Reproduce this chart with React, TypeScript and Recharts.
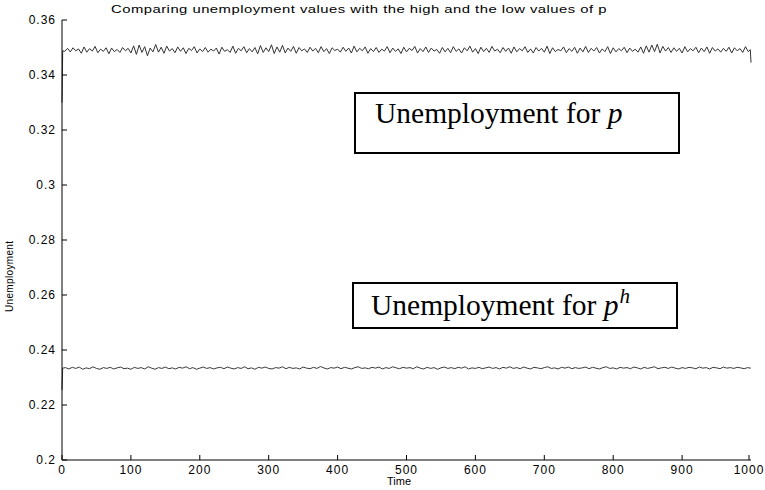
import { LineChart, Line, XAxis, YAxis } from 'recharts'

// sample times for the p series: start transient, then every 4 steps, then the last two steps
const TIMES_P = [0, 1, ...Array.from({ length: 249 }, (_, i) => 4 + i * 4), 999, 1000]
// sample times for the p^h series: start transient, then every 5 steps
const TIMES_PH = [0, 1, ...Array.from({ length: 199 }, (_, i) => 5 + i * 5), 999, 1000]

// unemployment under the low value of p
const UNEMP_P = [
  0.33, 0.3488,
  0.3486, 0.3497, 0.3484, 0.3499, 0.3488, 0.3495, 0.3479, 0.3502, 0.3483, 0.3496,
  0.3487, 0.3504, 0.3481, 0.3494, 0.3486, 0.3499, 0.3477, 0.3498, 0.3485, 0.3493,
  0.3482, 0.35, 0.3488, 0.3497, 0.348, 0.3506, 0.3475, 0.3509, 0.3482, 0.3503,
  0.347, 0.3498, 0.3484, 0.3511, 0.3483, 0.3501, 0.3479, 0.3505, 0.3487, 0.3496,
  0.3481, 0.3502, 0.3486, 0.3499, 0.3478, 0.3497, 0.3489, 0.3503, 0.348, 0.3495,
  0.3485, 0.35, 0.3483, 0.3494, 0.3487, 0.3498, 0.3476, 0.3501, 0.3486, 0.3492,
  0.3482, 0.3505, 0.3479, 0.3497, 0.3488, 0.3503, 0.3481, 0.3496, 0.3484, 0.35,
  0.3477, 0.3507, 0.3482, 0.3499, 0.3485, 0.351, 0.3478, 0.3502, 0.3483, 0.3508,
  0.348, 0.3498, 0.3486, 0.3504, 0.3479, 0.35, 0.3488, 0.3495, 0.3482, 0.3501,
  0.3487, 0.3497, 0.3481, 0.3503, 0.3485, 0.3496, 0.3478, 0.3499, 0.3489, 0.3494,
  0.3483, 0.3501, 0.3486, 0.3498, 0.348, 0.3505, 0.3484, 0.3497, 0.3488, 0.3502,
  0.3479, 0.3496, 0.3485, 0.35, 0.3482, 0.3494, 0.3487, 0.3503, 0.3481, 0.3498,
  0.3486, 0.3495, 0.3478, 0.3501, 0.3484, 0.3497, 0.3489, 0.3504, 0.348, 0.3496,
  0.3485, 0.3502, 0.3482, 0.3498, 0.3487, 0.3493, 0.3479, 0.35, 0.3484, 0.3497,
  0.3481, 0.3503, 0.3486, 0.3495, 0.348, 0.3499, 0.3488, 0.3505, 0.3483, 0.3496,
  0.3478, 0.3501, 0.3485, 0.3497, 0.3482, 0.3504, 0.3487, 0.3494, 0.3481, 0.35,
  0.3486, 0.3498, 0.3479, 0.3502, 0.3484, 0.3496, 0.3488, 0.3503, 0.3482, 0.3495,
  0.348, 0.35, 0.3487, 0.3497, 0.3483, 0.3505, 0.3478, 0.3499, 0.3485, 0.3493,
  0.3488, 0.3502, 0.3481, 0.3496, 0.3486, 0.3501, 0.3479, 0.3498, 0.3484, 0.3504,
  0.3482, 0.3497, 0.3487, 0.35, 0.348, 0.3495, 0.3485, 0.3503, 0.3478, 0.3499,
  0.3484, 0.3496, 0.3488, 0.3501, 0.3481, 0.3498, 0.3486, 0.3494, 0.3483, 0.3502,
  0.3479, 0.3506, 0.3483, 0.3509, 0.3485, 0.3512, 0.348, 0.3504, 0.3487, 0.35,
  0.3482, 0.3499, 0.3486, 0.3497, 0.348, 0.3503, 0.3484, 0.3496, 0.3488, 0.3501,
  0.3481, 0.3498, 0.3485, 0.3502, 0.3479, 0.35, 0.3487, 0.3495, 0.3483, 0.3497,
  0.3486, 0.3501, 0.348, 0.3499, 0.3488, 0.3496, 0.3482, 0.3503, 0.3485,
  0.3492, 0.3445,
]

// unemployment under the high value p^h
const UNEMP_PH = [
  0.2255, 0.2334,
  0.2336, 0.2331, 0.2337, 0.2333, 0.2338, 0.233, 0.2335, 0.2332, 0.2339, 0.2333,
  0.233, 0.2336, 0.2333, 0.2337, 0.2331, 0.2335, 0.2338, 0.2332, 0.2334, 0.233,
  0.2337, 0.2333, 0.2336, 0.2331, 0.2339, 0.2334, 0.233, 0.2336, 0.2333, 0.2338,
  0.2332, 0.2335, 0.2331, 0.2337, 0.2334, 0.2339, 0.2332, 0.2336, 0.233, 0.2334,
  0.2338, 0.2333, 0.2336, 0.2331, 0.2335, 0.2337, 0.2332, 0.2338, 0.2334, 0.2331,
  0.2336, 0.2333, 0.2339, 0.2332, 0.2335, 0.233, 0.2337, 0.2334, 0.2338, 0.2333,
  0.2331, 0.2336, 0.2334, 0.2339, 0.2332, 0.2337, 0.2333, 0.2335, 0.2331, 0.2338,
  0.2334, 0.2332, 0.2337, 0.2333, 0.234, 0.2335, 0.2331, 0.2336, 0.2334, 0.2338,
  0.2332, 0.2337, 0.2334, 0.2331, 0.2336, 0.2339, 0.2333, 0.2335, 0.2332, 0.2337,
  0.2334, 0.2338, 0.2331, 0.2336, 0.2333, 0.2339, 0.2335, 0.2332, 0.2337, 0.2334,
  0.2336, 0.2332, 0.2339, 0.2334, 0.2331, 0.2337, 0.2333, 0.2336, 0.233, 0.2335,
  0.2338, 0.2333, 0.2336, 0.2332, 0.2337, 0.2334, 0.2339, 0.2331, 0.2335, 0.2333,
  0.2337, 0.2332, 0.2335, 0.2338, 0.2333, 0.2336, 0.2331, 0.2337, 0.2334, 0.2339,
  0.2333, 0.2336, 0.2332, 0.2338, 0.2334, 0.2331, 0.2337, 0.2335, 0.2332, 0.2336,
  0.2339, 0.2333, 0.2335, 0.2331, 0.2337, 0.2334, 0.2338, 0.2332, 0.2336, 0.2333,
  0.2335, 0.2338, 0.2332, 0.2337, 0.2334, 0.2331, 0.2336, 0.2339, 0.2333, 0.2335,
  0.2331, 0.2337, 0.2334, 0.2336, 0.2332, 0.2338, 0.2335, 0.2331, 0.2337, 0.2333,
  0.2336, 0.2339, 0.2332, 0.2335, 0.2337, 0.2333, 0.2338, 0.2334, 0.2331, 0.2336,
  0.2333, 0.2337, 0.2335, 0.2332, 0.2338, 0.2334, 0.2336, 0.2331, 0.2337, 0.2335,
  0.2332, 0.2338, 0.2334, 0.2336, 0.2333, 0.2337, 0.2335, 0.2332, 0.2336,
  0.2334, 0.2335,
]

const X_TICKS = [0, 100, 200, 300, 400, 500, 600, 700, 800, 900, 1000]
const Y_TICKS = [0.2, 0.22, 0.24, 0.26, 0.28, 0.3, 0.32, 0.34, 0.36]

const pData = TIMES_P.map((t, i) => ({ t, v: UNEMP_P[i] }))
const phData = TIMES_PH.map((t, i) => ({ t, v: UNEMP_PH[i] }))

const sans = '"Liberation Sans", Arial, sans-serif'
const serif = '"Liberation Serif", "Times New Roman", serif'

const tickFont = { fontFamily: sans, fontSize: 12, letterSpacing: 1, fill: '#000' }

// matlab-style ticks: short marks pointing into the plot
function YTick({ x, y, payload }: any) {
  return (
    <g>
      <line x1={x} x2={x + 5} y1={y} y2={y} stroke="#000" />
      <text x={x - 6} y={y + 4} textAnchor="end" {...tickFont}>
        {payload.value}
      </text>
    </g>
  )
}

function XTick({ x, y, payload }: any) {
  return (
    <g>
      <line x1={x} x2={x} y1={y} y2={y - 5} stroke="#000" />
      <text x={x} y={y + 13.5} textAnchor="middle" {...tickFont}>
        {payload.value}
      </text>
    </g>
  )
}

export default function App() {
  return (
    <div style={{ position: 'absolute', left: 0, top: 0, width: 765, height: 490, background: '#fff' }}>
      <LineChart width={765} height={490} margin={{ top: 20, right: 14, bottom: 0, left: 0 }}>
        <XAxis
          dataKey="t"
          type="number"
          domain={[0, 1000]}
          ticks={X_TICKS}
          height={30}
          tickSize={0}
          tickMargin={0}
          tickLine={false}
          axisLine={{ stroke: '#000' }}
          tick={<XTick />}
        />
        <YAxis
          type="number"
          domain={[0.2, 0.36]}
          ticks={Y_TICKS}
          width={62}
          tickSize={0}
          tickMargin={0}
          tickLine={false}
          axisLine={{ stroke: '#000' }}
          tick={<YTick />}
        />
        <Line data={pData} dataKey="v" stroke="#333" strokeWidth={1} dot={false} isAnimationActive={false} />
        <Line data={phData} dataKey="v" stroke="#3a3a3a" strokeWidth={1} dot={false} isAnimationActive={false} />
      </LineChart>

      <svg
        width={765}
        height={490}
        style={{ position: 'absolute', left: 0, top: 0, pointerEvents: 'none' }}
      >
        <text
          transform="translate(111 13) scale(1.35 1)"
          fontFamily={sans}
          fontSize={11}
          textLength={367}
          lengthAdjust="spacing"
        >
          Comparing unemployment values with the high and the low values of p
        </text>
        <text x={399} y={485} textAnchor="middle" fontFamily={sans} fontSize={11}>
          Time
        </text>
        <text
          transform="translate(13 312) rotate(-90)"
          fontFamily={sans}
          fontSize={10}
          textLength={71}
          lengthAdjust="spacing"
        >
          Unemployment
        </text>

        <rect x={355} y={93} width={324} height={60} fill="#fff" stroke="#000" strokeWidth={2} />
        <text x={375} y={123} fontFamily={serif} fontSize={29.5}>
          Unemployment for <tspan fontStyle="italic">p</tspan>
        </text>

        <rect x={353} y={283} width={324} height={45} fill="#fff" stroke="#000" strokeWidth={2} />
        <text x={371} y={315} fontFamily={serif} fontSize={29.5}>
          Unemployment for <tspan fontStyle="italic">p</tspan>
          <tspan fontStyle="italic" fontSize={21} dy={-12} dx={1}>h</tspan>
        </text>
      </svg>
    </div>
  )
}
